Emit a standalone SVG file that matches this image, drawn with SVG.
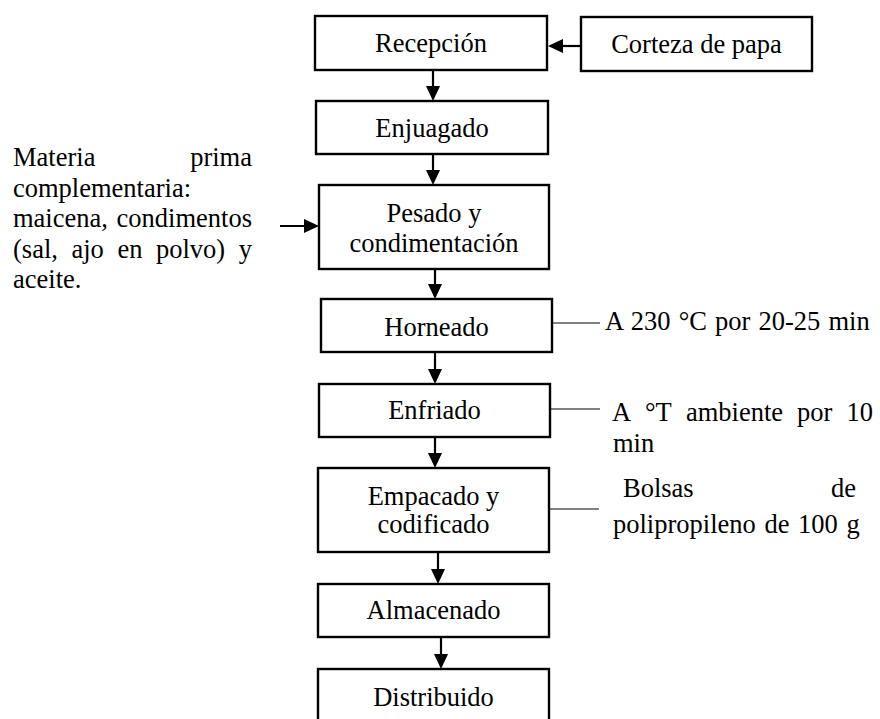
<svg xmlns="http://www.w3.org/2000/svg" width="880" height="719" viewBox="0 0 880 719">
  <style>
    .box { fill: #ffffff; stroke: #000000; stroke-width: 2.4; }
    .lbl { font-family: "Liberation Serif", "Times New Roman", serif; font-size: 26.5px; fill: #000000; }
    .mid { text-anchor: middle; }
    .end { text-anchor: end; }
    .flow { stroke: #000000; stroke-width: 2.2; fill: none; }
    .note { stroke: #000000; stroke-width: 1; fill: none; }
  </style>
  <defs>
    <marker id="head" viewBox="0 0 15 14" refX="12" refY="7" markerWidth="15" markerHeight="14" markerUnits="userSpaceOnUse" orient="auto">
      <path d="M0,0 L15,7 L0,14 z" fill="#000000"/>
    </marker>
  </defs>

  <rect width="880" height="719" fill="#ffffff"/>

  <!-- process steps -->
  <g id="recepcion">
    <rect class="box" x="315" y="16" width="232" height="54"/>
    <text class="lbl mid" x="431" y="52">Recepción</text>
  </g>
  <g id="corteza">
    <rect class="box" x="581" y="17" width="231" height="54"/>
    <text class="lbl mid" x="696.5" y="53">Corteza de papa</text>
  </g>
  <g id="enjuagado">
    <rect class="box" x="316" y="101" width="232" height="53"/>
    <text class="lbl mid" x="432" y="137">Enjuagado</text>
  </g>
  <g id="pesado">
    <rect class="box" x="319" y="185" width="230" height="84"/>
    <text class="lbl mid" x="434" y="222">Pesado y</text>
    <text class="lbl mid" x="434" y="252">condimentación</text>
  </g>
  <g id="horneado">
    <rect class="box" x="321" y="299" width="231" height="53"/>
    <text class="lbl mid" x="436.5" y="336">Horneado</text>
  </g>
  <g id="enfriado">
    <rect class="box" x="319" y="384" width="231" height="53"/>
    <text class="lbl mid" x="434.5" y="419">Enfriado</text>
  </g>
  <g id="empacado">
    <rect class="box" x="318" y="468" width="231" height="84"/>
    <text class="lbl mid" x="433.5" y="505">Empacado y</text>
    <text class="lbl mid" x="433.5" y="533">codificado</text>
  </g>
  <g id="almacenado">
    <rect class="box" x="318" y="584" width="231" height="53"/>
    <text class="lbl mid" x="433.5" y="619">Almacenado</text>
  </g>
  <g id="distribuido">
    <rect class="box" x="318" y="669" width="231" height="60"/>
    <text class="lbl mid" x="433.5" y="706">Distribuido</text>
  </g>

  <!-- side notes (justified lines are set word by word) -->
  <g id="materia-prima">
    <text class="lbl" x="13" y="166">Materia</text>
    <text class="lbl end" x="252" y="166">prima</text>
    <text class="lbl" x="13" y="197">complementaria:</text>
    <text class="lbl" x="13" y="227">maicena,</text>
    <text class="lbl end" x="252" y="227">condimentos</text>
    <text class="lbl" x="13" y="258">(sal,</text>
    <text class="lbl" x="71.5" y="258">ajo</text>
    <text class="lbl" x="117.4" y="258">en</text>
    <text class="lbl" x="156" y="258">polvo)</text>
    <text class="lbl end" x="252" y="258">y</text>
    <text class="lbl" x="13" y="288">aceite.</text>
  </g>
  <g id="nota-horneado">
    <text class="lbl" x="605" y="330" word-spacing="1.5">A 230 °C por 20-25 min</text>
  </g>
  <g id="nota-enfriado">
    <text class="lbl" x="612" y="421">A</text>
    <text class="lbl" x="645" y="421">°T</text>
    <text class="lbl" x="686" y="421">ambiente</text>
    <text class="lbl" x="797" y="421">por</text>
    <text class="lbl end" x="873" y="421">10</text>
    <text class="lbl" x="613" y="452">min</text>
  </g>
  <g id="nota-empacado">
    <text class="lbl" x="623" y="497">Bolsas</text>
    <text class="lbl end" x="856" y="497">de</text>
    <text class="lbl" x="613" y="533" word-spacing="2">polipropileno de 100 g</text>
  </g>

  <!-- connectors -->
  <g id="connectors">
    <line class="flow" x1="581" y1="46" x2="551" y2="46" marker-end="url(#head)"/>
    <line class="flow" x1="433" y1="70" x2="433" y2="98" marker-end="url(#head)"/>
    <line class="flow" x1="433" y1="154" x2="433" y2="182" marker-end="url(#head)"/>
    <line class="flow" x1="280" y1="226" x2="316" y2="226" marker-end="url(#head)"/>
    <line class="flow" x1="435" y1="269" x2="435" y2="296" marker-end="url(#head)"/>
    <line class="flow" x1="435" y1="352" x2="435" y2="381" marker-end="url(#head)"/>
    <line class="flow" x1="435" y1="437" x2="435" y2="465" marker-end="url(#head)"/>
    <line class="flow" x1="438" y1="552" x2="438" y2="581" marker-end="url(#head)"/>
    <line class="flow" x1="441" y1="637" x2="441" y2="666" marker-end="url(#head)"/>
    <line class="note" x1="552" y1="323" x2="600" y2="323"/>
    <line class="note" x1="550" y1="409" x2="600" y2="409"/>
    <line class="note" x1="549" y1="509" x2="599" y2="509"/>
  </g>
</svg>
